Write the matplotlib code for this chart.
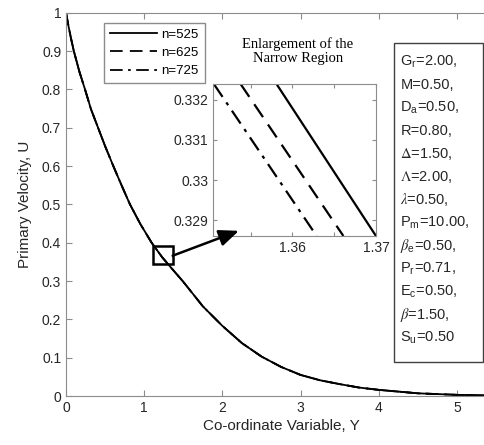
import matplotlib
matplotlib.use('Agg')
import matplotlib.pyplot as plt
from matplotlib.patches import Rectangle

plt.rcParams['font.family'] = ['Liberation Sans', 'DejaVu Sans']
plt.rcParams['mathtext.fontset'] = 'stix'

# main curve, all three n overlap at this scale
coord_y = [0, 0.03, 0.065, 0.10, 0.17, 0.243, 0.32, 0.41, 0.50, 0.605, 0.71, 0.818,
           0.95, 1.095, 1.23, 1.36, 1.5, 1.75, 2.0, 2.25, 2.5, 2.75, 3.0, 3.25, 3.5,
           3.75, 4.0, 4.5, 5.0, 5.5]
velocity_u = [1.0, 0.967, 0.932, 0.9, 0.847, 0.8, 0.748, 0.7, 0.652, 0.6, 0.55, 0.5,
              0.449, 0.4, 0.362, 0.331, 0.298, 0.234, 0.183, 0.138, 0.103, 0.076,
              0.055, 0.041, 0.031, 0.022, 0.016, 0.007, 0.003, 0.001]

# enlarged region: each curve is a straight segment across the window
zoom_u = [0.3324, 0.3286]
zoom_y = {
    'n=525': [1.3581, 1.3700],
    'n=625': [1.3538, 1.3661],
    'n=725': [1.3506, 1.3629],
}
styles = {'n=525': '-', 'n=625': (0, (7, 4)), 'n=725': (0, (7, 3, 1.5, 3))}

params = [r'G$_\mathregular{r}$=2.00,', 'M=0.50,', r'D$_\mathregular{a}$=0.50,',
          'R=0.80,', r'$\Delta$=1.50,', r'$\Lambda$=2.00,', r'$\lambda$=0.50,',
          r'P$_\mathregular{m}$=10.00,', r'$\beta_\mathregular{e}$=0.50,',
          r'P$_\mathregular{r}$=0.71,', r'E$_\mathregular{c}$=0.50,',
          r'$\beta$=1.50,', r'S$_\mathregular{u}$=0.50']

W, H = 484, 445
gray = '#262626'
spine = '#8c8c8c'

fig = plt.figure(figsize=(W / 100, H / 100), dpi=100)
ax = fig.add_axes([66 / W, 1 - 396 / H, 430 / W, (396 - 12.7) / H])

for name in zoom_y:
    ax.plot(coord_y, velocity_u, color='black', lw=1.3, linestyle=styles[name], label=name)

ax.set_xlim(0, 5.5)
ax.set_ylim(0, 1)
ax.set_xticks(range(6))
ax.set_yticks([i / 10 for i in range(11)])
ax.set_yticklabels(['0'] + ['0.%d' % i for i in range(1, 10)] + ['1'])
ax.tick_params(direction='in', top=True, right=True, labelsize=10, colors=spine,
               labelcolor=gray, length=4)
for s in ax.spines.values():
    s.set_color(spine)
ax.set_xlabel('Co-ordinate Variable, Y', fontsize=11, color=gray, labelpad=3)
ax.set_ylabel('Primary Velocity, U', fontsize=11, color=gray, labelpad=7)

leg = ax.legend(loc='upper left', bbox_to_anchor=(104 / W, 1 - 22.7 / H),
                bbox_transform=fig.transFigure, borderaxespad=0, fontsize=9.5,
                handlelength=3.6, handletextpad=0.3, labelspacing=0.45,
                fancybox=False, framealpha=1, borderpad=0.45)
leg.get_frame().set_edgecolor(spine)
leg.get_frame().set_linewidth(1.0)

# box marking the enlarged region
ax.add_patch(Rectangle((1.108, 0.344), 0.256, 0.048, fill=False, lw=1.8,
                       edgecolor='black', zorder=5))

# inset
axi = fig.add_axes([213 / W, 1 - 236 / H, 163 / W, 152 / H])
for name in zoom_y:
    axi.plot(zoom_y[name], zoom_u, color='black', lw=1.6, linestyle=styles[name])
axi.set_xlim(1.3505, 1.37)
axi.set_ylim(0.3286, 0.3324)
axi.set_xticks([1.355, 1.36, 1.365, 1.37])
axi.set_xticklabels(['', '1.36', '', '1.37'])
axi.set_yticks([0.329, 0.33, 0.331, 0.332])
axi.set_yticklabels(['0.329', '0.33', '0.331', '0.332'])
axi.tick_params(direction='in', top=True, right=True, labelsize=10, colors=spine,
                labelcolor=gray, length=3)
for s in axi.spines.values():
    s.set_color(spine)

fig.text(298 / W, 1 - 51 / H, 'Enlargement of the\nNarrow Region', ha='center',
         va='center', fontsize=10.5, family='Liberation Serif', linespacing=1.1)

axi.annotate('', xy=(1.3536, 0.32873), xycoords='data',
             xytext=(1.364, 0.366), textcoords=ax.transData,
             arrowprops=dict(arrowstyle='-|>,head_length=1.2,head_width=0.5',
                             color='black', lw=1.8, shrinkA=0, shrinkB=0),
             annotation_clip=False)

# parameter box
fig.add_artist(Rectangle((394.3 / W, 1 - 361.7 / H), (483 - 394.3) / W,
                         (361.7 - 42.7) / H, transform=fig.transFigure,
                         fill=True, facecolor='white', edgecolor='#404040', lw=1.0))
for i, t in enumerate(params):
    fig.text(400.5 / W, 1 - (61.7 + i * 23.0) / H, t, fontsize=10.5, color=gray,
             ha='left', va='center')

fig.savefig('out.png', dpi=100)
